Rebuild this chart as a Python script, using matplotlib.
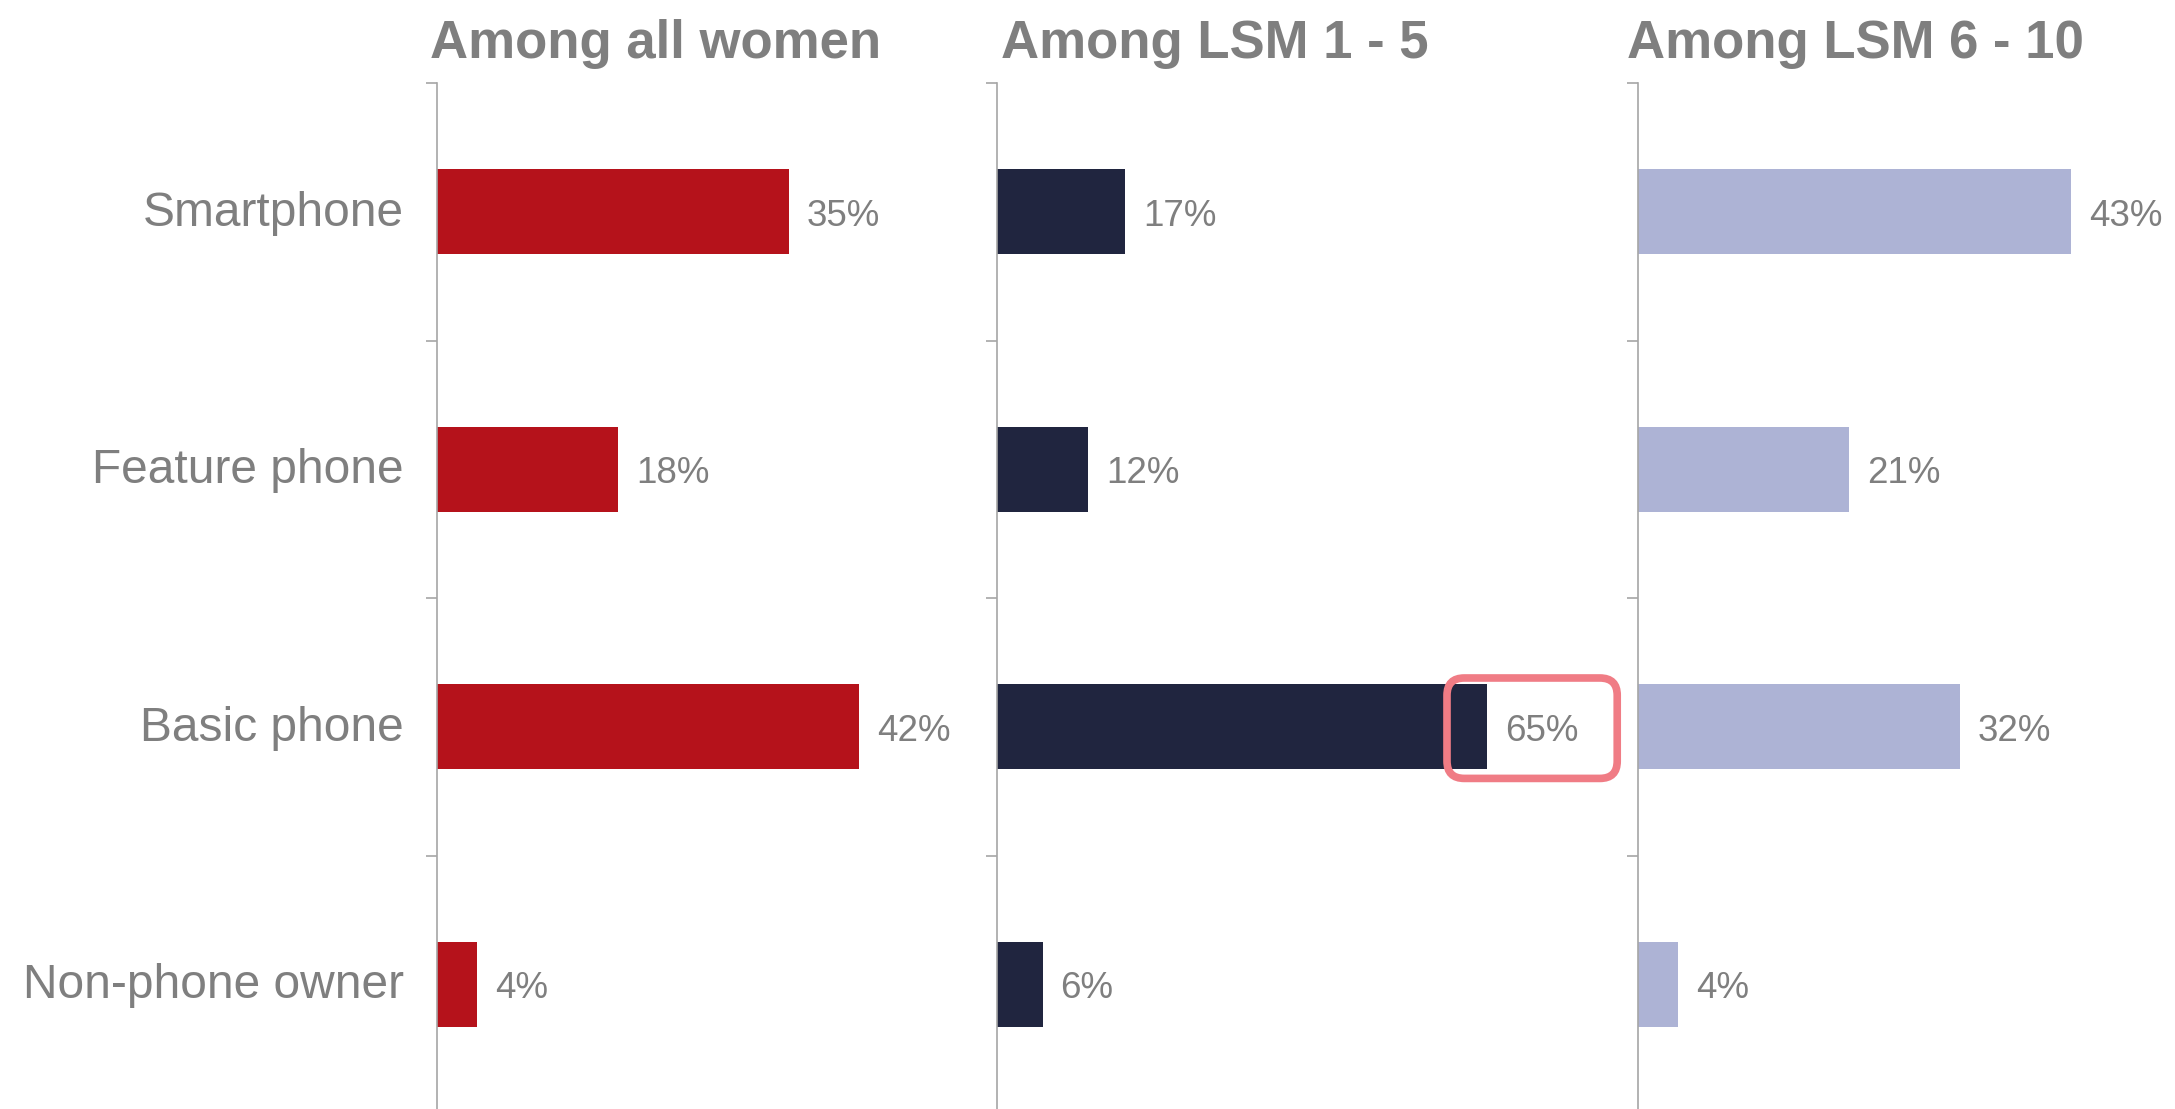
import matplotlib.pyplot as plt
from matplotlib.patches import FancyBboxPatch
from matplotlib.transforms import ScaledTranslation

plt.rcParams['font.family'] = ['Liberation Sans', 'DejaVu Sans']

# data
categories = ['Smartphone', 'Feature phone', 'Basic phone', 'Non-phone owner']
titles = ['Among all women', 'Among LSM 1 - 5', 'Among LSM 6 - 10']
all_women = [35, 18, 42, 4]
lsm_1_5 = [17, 12, 65, 6]
lsm_6_10 = [43, 21, 32, 4]
series = [all_women, lsm_1_5, lsm_6_10]
colors = ['#B5121B', '#20253F', '#ADB3D5']
highlight = (1, 2)  # panel, category index of boxed label

grey = '#7F7F7F'
W, H = 1568, 800  # layout measured on shrunk reference

fig = plt.figure(figsize=(21.75, 11.09), dpi=100)

# left px, width px, px per percent
panels = [(315, 380, 7.25), (719, 440, 5.43), (1181, 380, 7.25)]
title_x = [310, 722, 1173]

top = 60
bottom = 803
for i, (left, width, scale) in enumerate(panels):
    ax = fig.add_axes([left / W, 1 - bottom / H, width / W, (bottom - top) / H])
    vals = series[i]
    y = list(range(len(categories)))
    ax.barh(y, vals, height=0.33, color=colors[i])
    ax.set_xlim(0, width / scale)
    ax.set_ylim(len(categories) - 0.5, -0.5)
    for s in ['top', 'right', 'bottom']:
        ax.spines[s].set_visible(False)
    ax.spines['left'].set_color('#A6A6A6')
    ax.spines['left'].set_linewidth(1.2)
    ax.set_xticks([])
    ax.set_yticks(y)
    ax.set_yticks([k + 0.5 for k in range(-1, len(categories))], minor=True)
    ax.tick_params(axis='y', which='major', length=0, pad=24)
    ax.tick_params(axis='y', which='minor', length=8, width=1.2, color='#A6A6A6')
    if i == 0:
        ax.set_yticklabels(categories, fontsize=34.5, color=grey)
        up = ScaledTranslation(0, 2.5 / 72, fig.dpi_scale_trans)
        for lbl in ax.get_yticklabels():
            lbl.set_transform(lbl.get_transform() + up)
    else:
        ax.set_yticklabels([])
    for k, v in enumerate(vals):
        ax.annotate(f'{v}%', (v, k), xytext=(13, -3), textcoords='offset points',
                    va='center', ha='left', fontsize=26.5, color=grey)
    if highlight[0] == i:
        k = highlight[1]
        v = vals[k]
        # rounded box around the label
        x0, x1 = v - 5.3, v + 17.3
        y0, y1 = k - 0.19, k + 0.2
        aspect = scale / 186
        box = FancyBboxPatch((x0, y0), x1 - x0, y1 - y0,
                             boxstyle='round,pad=0,rounding_size=2.3',
                             mutation_aspect=aspect,
                             fc='none', ec='#F07C85', lw=5.5, clip_on=False, zorder=5)
        ax.add_patch(box)
    fig.text(title_x[i] / W, 1 - 42 / H, titles[i], fontsize=38, fontweight='bold',
             color=grey, ha='left', va='baseline')

fig.savefig('out.png', dpi=100)
